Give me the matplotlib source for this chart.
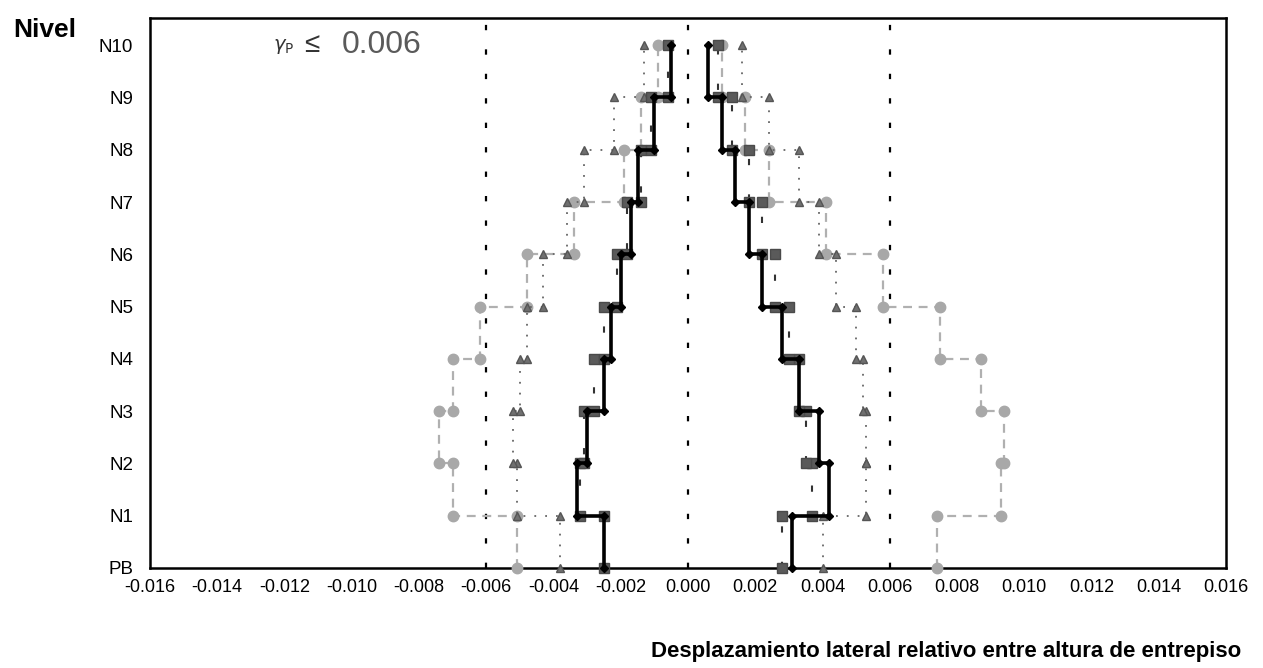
"""Story drift profiles (scanned chart recreation)."""
import numpy as np
import matplotlib
matplotlib.use("Agg")
import matplotlib.pyplot as plt

plt.rcParams["font.family"] = ["Liberation Sans", "DejaVu Sans"]

levels = ["PB", "N1", "N2", "N3", "N4", "N5", "N6", "N7", "N8", "N9", "N10"]
xticks = [-0.016, -0.014, -0.012, -0.010, -0.008, -0.006, -0.004, -0.002,
          0.000, 0.002, 0.004, 0.006, 0.008, 0.010, 0.012, 0.014, 0.016]
drift_limit = 0.006

# drift per story (story 1 .. story 10), both directions
black_pos = [0.0031, 0.0042, 0.0039, 0.0033, 0.0028, 0.0022, 0.0018, 0.0014, 0.0010, 0.0006]
black_neg = [-0.0025, -0.0033, -0.0030, -0.0025, -0.0023, -0.0020, -0.0017, -0.0015, -0.0010, -0.0005]
square_pos = [0.0028, 0.0037, 0.0035, 0.0033, 0.0030, 0.0026, 0.0022, 0.0018, 0.0013, 0.0009]
square_neg = [-0.0025, -0.0032, -0.0031, -0.0028, -0.0025, -0.0021, -0.0018, -0.0014, -0.0011, -0.0006]
tri_pos = [0.0040, 0.0053, 0.0053, 0.0052, 0.0050, 0.0044, 0.0039, 0.0033, 0.0024, 0.0016]
tri_neg = [-0.0038, -0.0051, -0.0052, -0.0050, -0.0048, -0.0043, -0.0036, -0.0031, -0.0022, -0.0013]
circ_pos = [0.0074, 0.0093, 0.0094, 0.0087, 0.0075, 0.0058, 0.0041, 0.0024, 0.0017, 0.0010]
circ_neg = [-0.0051, -0.0070, -0.0074, -0.0070, -0.0062, -0.0048, -0.0034, -0.0019, -0.0014, -0.0009]


def step_profile(drifts):
    """Corner points of a story-drift step line."""
    d = np.asarray(drifts)
    x = np.repeat(d, 2)
    y = np.column_stack([np.arange(len(d)), np.arange(1, len(d) + 1)]).ravel()
    return x, y


fig = plt.figure(figsize=(12.63, 6.68), dpi=100)
ax = fig.add_axes([150 / 1263, 1 - 568 / 668, 1076 / 1263, 550 / 668])

styles = [
    (circ_pos, circ_neg, dict(color="#b0b0b0", ls=(0, (4, 3)), lw=1.6, marker="o",
                              ms=7.5, mfc="#a8a8a8", mec="#a8a8a8")),
    (tri_pos, tri_neg, dict(color="#666666", ls=(0, (1, 5)), lw=1.3, marker="^",
                            ms=6, mfc="#707070", mec="#555555")),
    (square_pos, square_neg, dict(color="#333333", ls=(0, (3, 14)), lw=1.5, marker="s",
                                  ms=7.5, mfc="#5a5a5a", mec="#4a4a4a")),
    (black_pos, black_neg, dict(color="black", ls="-", lw=2.6, marker="D",
                                ms=4, mfc="black", mec="black")),
]
for pos, neg, st in styles:
    for d in (pos, neg):
        x, y = step_profile(d)
        ax.plot(x, y, clip_on=False, zorder=3, **st)

for xv in (-drift_limit, 0.0, drift_limit):
    ax.axvline(xv, color="black", lw=1.6, ls=(0, (2.4, 8.6)), zorder=2)

ax.set_xlim(xticks[0], xticks[-1])
ax.set_ylim(0, 10.52)
ax.set_xticks(xticks)
ax.set_xticklabels([f"{v:.3f}" for v in xticks])
ax.set_yticks(range(len(levels)))
ax.set_yticklabels(levels)
ax.tick_params(length=0, labelsize=13)
ax.tick_params(axis="y", pad=12, labelsize=13.5)
ax.tick_params(axis="x", pad=8)
for s in ax.spines.values():
    s.set_linewidth(1.8)

ax.text(0.114, 0.949, r"$\gamma_{\rm P}$", transform=ax.transAxes, fontsize=14,
        color="#333333", va="center")
ax.text(0.143, 0.951, "≤", transform=ax.transAxes, fontsize=20,
        color="#333333", va="center")
ax.text(0.178, 0.951, "0.006", transform=ax.transAxes, fontsize=23,
        color="#5a5a5a", va="center")

fig.text(13 / 1263, 1 - 30 / 668, "Nivel", fontsize=19, fontweight="bold", va="center")
fig.text(1241 / 1263, 1 - 652 / 668,
         "Desplazamiento lateral relativo entre altura de entrepiso",
         fontsize=16, fontweight="bold", ha="right", va="center")

fig.savefig("out.png", dpi=100, facecolor="white")
